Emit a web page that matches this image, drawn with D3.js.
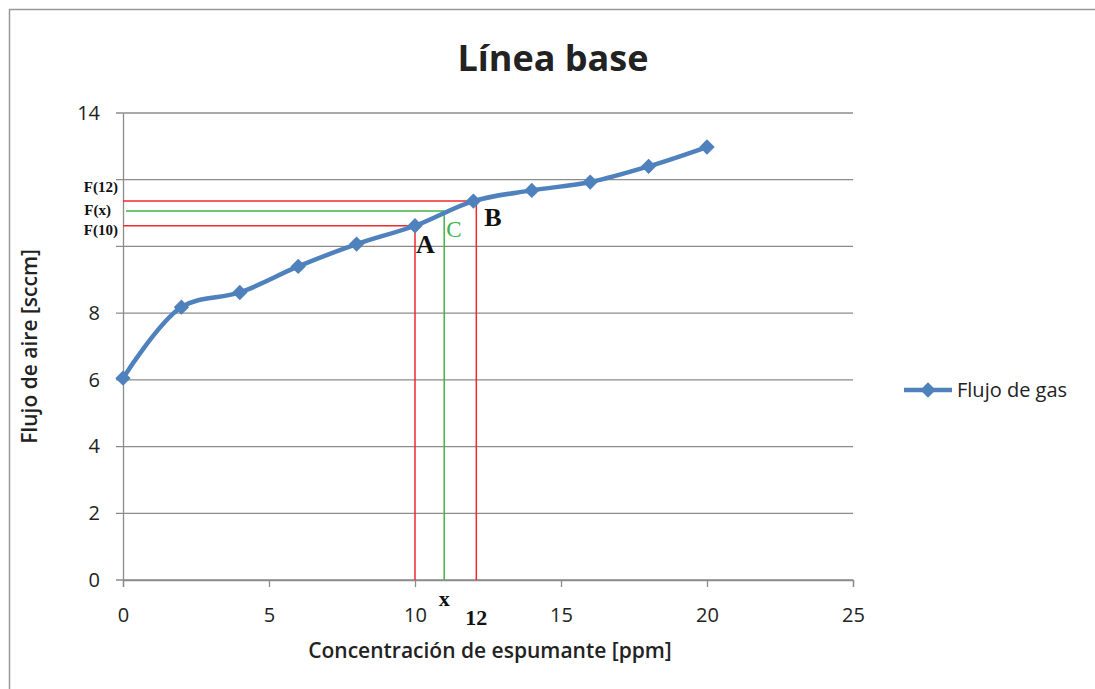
<!DOCTYPE html>
<html lang="es">
<head>
<meta charset="utf-8">
<title>Línea base</title>
<script src="https://cdn.jsdelivr.net/npm/d3@7"></script>
<style>
  body { margin: 0; background: #fff; }
  svg text { font-family: "Open Sans", "Liberation Sans", sans-serif; fill: #222; }
  svg text.ann { font-family: "Liberation Serif", "DejaVu Serif", serif; font-weight: bold; }
</style>
</head>
<body>
<div id="chart"></div>
<script>
// data
var concentracion = [0, 2, 4, 6, 8, 10, 12, 14, 16, 18, 20];
var flujo = [6.05, 8.18, 8.62, 9.4, 10.07, 10.62, 11.36, 11.68, 11.93, 12.4, 12.98];
var xTicks = [0, 5, 10, 15, 20, 25];
var yTicks = [0, 2, 4, 6, 8, 14];
var yGrid = [0, 2, 4, 6, 8, 10, 12, 14];

// interpolation guide lines
var xA = 10, xB = 12.1, xC = 11;
var fA = 10.62, fB = 11.36, fC = 11.06;

var width = 1095, height = 689;
var mLeft = 123, mRight = 853, mTop = 113, mBottom = 580;

var svg = d3.select("#chart").append("svg")
  .attr("width", width).attr("height", height)
  .style("display", "block");

// outer frame
svg.append("rect")
  .attr("x", 9.5).attr("y", 9.5)
  .attr("width", width + 10).attr("height", height + 10)
  .attr("fill", "none").attr("stroke", "#999").attr("stroke-width", 1.5);

var x = d3.scaleLinear().domain([0, 25]).range([mLeft, mRight]);
var y = d3.scaleLinear().domain([0, 14]).range([mBottom, mTop]);

// gridlines
svg.selectAll(".grid").data(yGrid).enter().append("line")
  .attr("x1", mLeft - 7).attr("x2", mRight)
  .attr("y1", function(d) { return y(d); })
  .attr("y2", function(d) { return y(d); })
  .attr("stroke", "#8c8c8c").attr("stroke-width", 1.3);

// x axis
var xAxis = d3.axisBottom(x).tickValues(xTicks).tickSize(7).tickPadding(21);
var gx = svg.append("g").attr("transform", "translate(0," + mBottom + ")").call(xAxis);
gx.select(".domain").attr("stroke", "#8c8c8c").attr("stroke-width", 1.3);
gx.selectAll("line").attr("stroke", "#8c8c8c").attr("stroke-width", 1.3);
gx.selectAll("text").style("font-size", "20px").style("fill", "#222");

// y axis
var yAxis = d3.axisLeft(y).tickValues(yTicks).tickSize(0).tickPadding(23);
var gy = svg.append("g").attr("transform", "translate(" + mLeft + ",0)").call(yAxis);
gy.select(".domain").attr("stroke", "#8c8c8c").attr("stroke-width", 1.3);
gy.selectAll("text").style("font-size", "20px").style("fill", "#222");

// guide lines
function hline(v, x1, x2, c) {
  svg.append("line").attr("x1", x1).attr("x2", x(x2))
    .attr("y1", y(v)).attr("y2", y(v)).attr("stroke", c).attr("stroke-width", 1.5);
}
function vline(v, y1, c) {
  svg.append("line").attr("x1", x(v)).attr("x2", x(v))
    .attr("y1", y(y1)).attr("y2", y(0)).attr("stroke", c).attr("stroke-width", 1.5);
}
hline(fB, mLeft, xB, "#f0292c");
hline(fA, mLeft, xA, "#f0292c");
vline(xB, fB, "#f0292c");
vline(xA, fA, "#f0292c");
hline(fC, mLeft + 3, xC, "#3cb54a");
vline(xC, fC, "#3cb54a");

// series
var pts = concentracion.map(function(c, i) { return [c, flujo[i]]; });
var line = d3.line()
  .x(function(d) { return x(d[0]); })
  .y(function(d) { return y(d[1]); })
  .curve(d3.curveCatmullRom.alpha(0.5));

svg.append("path").datum(pts)
  .attr("d", line).attr("fill", "none")
  .attr("stroke", "#4f81bd").attr("stroke-width", 4.5)
  .attr("stroke-linejoin", "round");

var diamond = d3.symbol().type(d3.symbolDiamond2).size(150);
svg.selectAll(".pt").data(pts).enter().append("path")
  .attr("d", diamond)
  .attr("transform", function(d) { return "translate(" + x(d[0]) + "," + y(d[1]) + ")"; })
  .attr("fill", "#4f81bd");

// annotation labels
function ann(t, px, py, size, color, anchor) {
  return svg.append("text").attr("class", "ann")
    .attr("x", px).attr("y", py)
    .attr("text-anchor", anchor || "start")
    .style("font-size", size + "px")
    .style("fill", color || "#111")
    .text(t);
}
ann("F(12)", 118, y(fB) - 9, 15, "#111", "end");
ann("F(x)", 111, y(fC) + 4, 15, "#111", "end");
ann("F(10)", 118, y(fA) + 9, 15, "#111", "end");
ann("A", x(xA) + 1, 253, 26);
ann("B", x(xB) + 8, 226, 26);
ann("C", x(xC) + 2, 237, 23, "#3cb54a").style("font-weight", "normal");
ann("x", x(xC), 606, 22, "#111", "middle");
ann("12", x(xB), 625, 22, "#111", "middle");

// titles
svg.append("text").attr("x", 553).attr("y", 71)
  .attr("text-anchor", "middle").style("font-size", "36px").style("font-weight", "bold")
  .text("Línea base");
svg.append("text").attr("x", 490).attr("y", 658)
  .attr("text-anchor", "middle").style("font-size", "21px").style("font-weight", 600)
  .text("Concentración de espumante [ppm]");
svg.append("text")
  .attr("transform", "translate(37," + ((mTop + mBottom) / 2) + ") rotate(-90)")
  .attr("text-anchor", "middle").style("font-size", "21px").style("font-weight", 600)
  .text("Flujo de aire [sccm]");

// legend
var lg = svg.append("g").attr("transform", "translate(904,390)");
lg.append("line").attr("x1", 0).attr("x2", 48).attr("y1", 0).attr("y2", 0)
  .attr("stroke", "#4f81bd").attr("stroke-width", 4.5);
lg.append("path").attr("d", diamond).attr("transform", "translate(24,0)").attr("fill", "#4f81bd");
lg.append("text").attr("x", 53).attr("y", 7).style("font-size", "20px").text("Flujo de gas");
</script>
</body>
</html>
